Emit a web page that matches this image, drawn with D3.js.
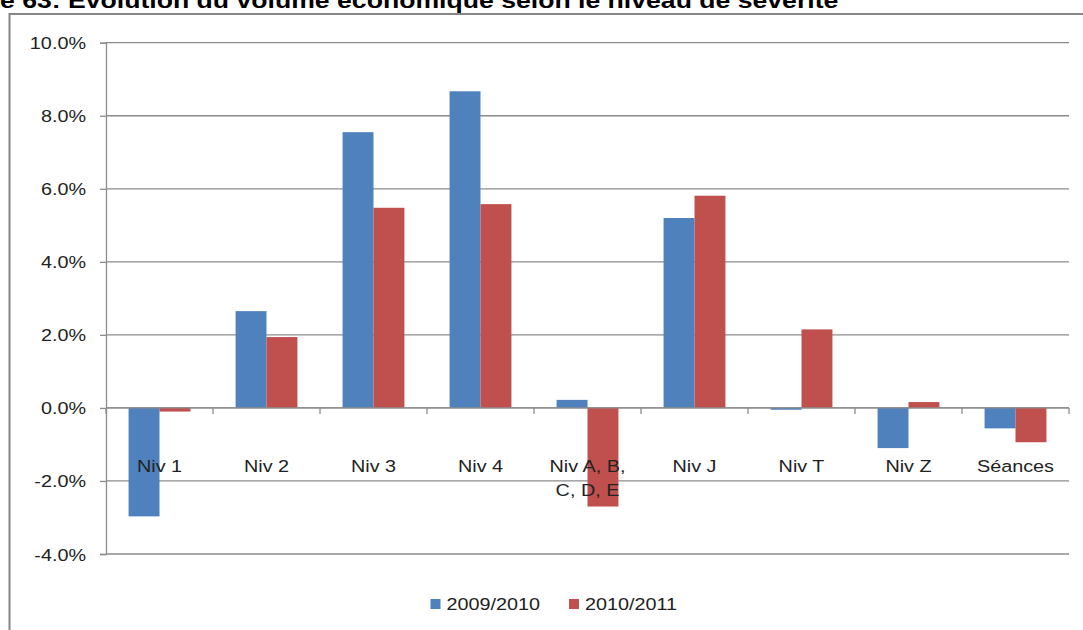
<!DOCTYPE html>
<html><head><meta charset="utf-8">
<script src="https://cdn.jsdelivr.net/npm/d3@7"></script>
<style>body{margin:0;background:#fff;}svg{display:block;font-family:"Liberation Sans",Arial,sans-serif;}</style>
</head><body>
<svg id="c" width="1083" height="630"></svg>
<script>
const categories = ["Niv 1","Niv 2","Niv 3","Niv 4","Niv A, B, C, D, E","Niv J","Niv T","Niv Z","Séances"];
const categoryLines = [["Niv 1"],["Niv 2"],["Niv 3"],["Niv 4"],["Niv A, B,","C, D, E"],["Niv J"],["Niv T"],["Niv Z"],["Séances"]];
const seriesNames = ["2009/2010","2010/2011"];
const values2009 = [-2.97, 2.65, 7.55, 8.67, 0.22, 5.20, -0.05, -1.10, -0.56];
const values2010 = [-0.10, 1.94, 5.48, 5.58, -2.70, 5.81, 2.15, 0.16, -0.94];
const colors = ["#4F81BD","#C0504D"];
const yTicks = [-4,-2,0,2,4,6,8,10];
const title = "e 63: Evolution du volume économique selon le niveau de sévérité";

const SX = 1.2;
const svg = d3.select("#c");
function label(parent, x, y, str, anchor, size, sx, weight){
  return parent.append("text")
    .attr("transform",`translate(${x},${y}) scale(${sx},1)`)
    .attr("text-anchor",anchor).attr("font-size",size)
    .attr("font-weight",weight||"normal").attr("fill","#222").text(str);
}

// title
label(svg, 0, 8, title, "start", 22, 1.21, "bold").attr("fill","#000");
// outer frame
svg.append("rect").attr("x",9.5).attr("y",14).attr("width",1100).attr("height",700)
  .attr("fill","none").attr("stroke","#868686").attr("stroke-width",2);

const L=106, R=1069, T=42.7, B=554;
const y = d3.scaleLinear().domain([-4,10]).range([B,T]);
const x0 = d3.scaleBand().domain(categories).range([L,R]).padding(0);
const x1 = d3.scaleBand().domain(seriesNames).range([0,x0.bandwidth()]).paddingInner(0).paddingOuter(0.73);

// gridlines
svg.append("g").selectAll("line").data(yTicks).join("line")
  .attr("x1",L).attr("x2",R).attr("y1",d=>y(d)).attr("y2",d=>y(d))
  .attr("stroke","#8c8c8c").attr("stroke-width",1.3);

// y axis
const yAxis = d3.axisLeft(y).tickValues(yTicks).tickSize(6).tickPadding(14)
  .tickFormat(d=>d.toFixed(1)+"%");
const gy = svg.append("g").attr("transform",`translate(${L},0)`).call(yAxis);
gy.select(".domain").attr("stroke","#8c8c8c").attr("stroke-width",1.3);
gy.selectAll(".tick line").attr("stroke","#8c8c8c").attr("stroke-width",1.3);
gy.selectAll("text").attr("font-size",16.5).attr("fill","#222").attr("font-family","Liberation Sans, Arial, sans-serif")
  .attr("x",0).attr("dy",null).attr("transform",`translate(-20,6) scale(${SX},1)`);

// bars
const data = categories.map((c,i)=>({c, vals:[values2009[i],values2010[i]]}));
const groups = svg.append("g").selectAll("g").data(data).join("g")
  .attr("transform",d=>`translate(${x0(d.c)},0)`);
groups.selectAll("rect").data(d=>d.vals.map((v,j)=>({v,s:seriesNames[j],j}))).join("rect")
  .attr("x",d=>x1(d.s)).attr("width",x1.bandwidth())
  .attr("y",d=>y(Math.max(0,d.v))).attr("height",d=>Math.abs(y(d.v)-y(0)))
  .attr("fill",d=>colors[d.j]);

// x axis at zero
const y0 = y(0);
svg.append("line").attr("x1",L).attr("x2",R).attr("y1",y0).attr("y2",y0)
  .attr("stroke","#8c8c8c").attr("stroke-width",1.3);
const bounds = categories.map(c=>x0(c)).concat([R]);
svg.append("g").selectAll("line").data(bounds).join("line")
  .attr("x1",d=>d).attr("x2",d=>d).attr("y1",y0).attr("y2",y0+6)
  .attr("stroke","#8c8c8c").attr("stroke-width",1.3);

// category labels
const gl = svg.append("g");
categories.forEach((c,i)=>{
  categoryLines[i].forEach((line,k)=>{
    label(gl, x0(c)+x0.bandwidth()/2, 472+k*24, line, "middle", 16.5, SX);
  });
});

// legend
const legX = [430.5, 569];
seriesNames.forEach((s,i)=>{
  svg.append("rect").attr("x",legX[i]).attr("y",599).attr("width",10).attr("height",10).attr("fill",colors[i]);
  label(svg, legX[i]+16, 610, s, "start", 16.5, SX);
});
</script>
</body></html>
